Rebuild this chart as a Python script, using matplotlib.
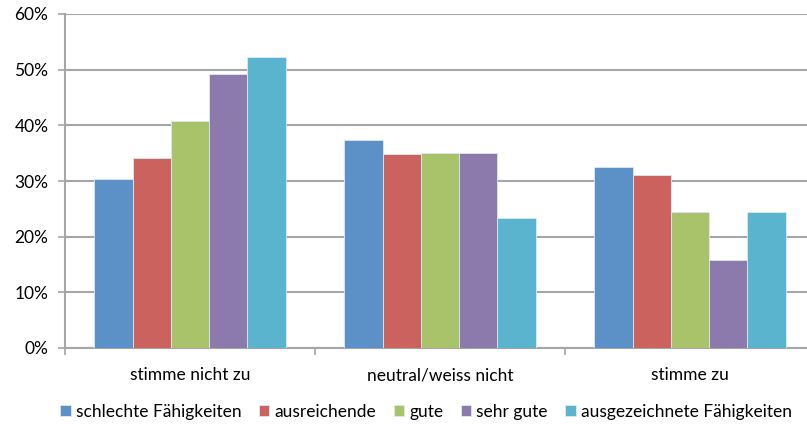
import matplotlib.pyplot as plt
import numpy as np
from matplotlib.ticker import MultipleLocator, FuncFormatter

# Data
categories = ['stimme nicht zu', 'neutral/weiss nicht', 'stimme zu']
series = ['schlechte Fähigkeiten', 'ausreichende', 'gute', 'sehr gute', 'ausgezeichnete Fähigkeiten']
values = [
    [30.4, 37.4, 32.5],   # schlechte
    [34.1, 34.8, 31.1],   # ausreichende
    [40.8, 35.0, 24.4],   # gute
    [49.2, 35.0, 15.8],   # sehr gute
    [52.3, 23.4, 24.4],   # ausgezeichnete
]
colors = ['#5B91C6', '#CB625D', '#A8C36A', '#8D7AAD', '#5BB4CE']

plt.rcParams['font.family'] = ['Lato', 'DejaVu Sans']

fig = plt.figure(figsize=(8.07, 4.26), dpi=100)
# axis runs past right edge as in the original
ax = fig.add_axes([65/807, (426-348)/426, 750/807, 334/426])

x = np.arange(len(categories))
w = 0.153
for i, (name, vals) in enumerate(zip(series, values)):
    ax.bar(x + (i - 2) * w, vals, w, color=colors[i], label=name,
           edgecolor='#dbe9f5', linewidth=0.6, zorder=3)

ax.set_xlim(-0.5, 2.5)
ax.set_ylim(0, 60)
ax.yaxis.set_major_locator(MultipleLocator(10))
ax.yaxis.set_major_formatter(FuncFormatter(lambda v, p: '%d%%' % v))
ax.grid(axis='y', color='#a6a6a6', linewidth=1.5, zorder=0)

ax.set_xticks([-0.5, 0.5, 1.5, 2.5])
ax.set_xticklabels([])
ax.set_xticks(x, minor=True)
ax.set_xticklabels(categories, minor=True)
ax.tick_params(axis='x', which='minor', length=0, pad=14, labelsize=12.5)
ax.tick_params(axis='x', which='major', length=5, color='#a6a6a6', width=1.2)
ax.tick_params(axis='y', length=5, color='#a6a6a6', width=1.2, labelsize=12.5, pad=7)

for s in ['top', 'right']:
    ax.spines[s].set_visible(False)
for s in ['left', 'bottom']:
    ax.spines[s].set_color('#a6a6a6')
    ax.spines[s].set_linewidth(1.5)

fig.legend(loc='center', bbox_to_anchor=(426/807, (426-412)/426), ncol=5,
           frameon=False, fontsize=12.5, handlelength=0.6, handleheight=0.6,
           handletextpad=0.3, columnspacing=1.0)

fig.savefig('out.png', dpi=100)
